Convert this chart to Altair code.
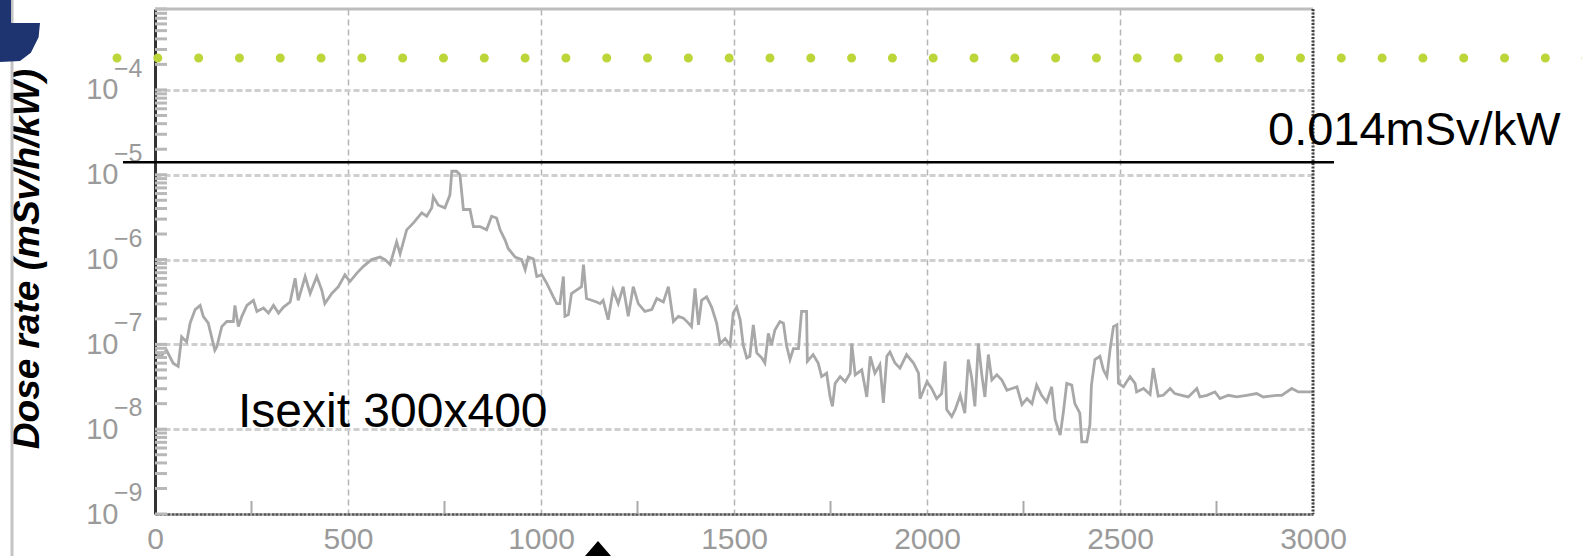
import altair as alt
import pandas as pd

# Distance along the exit (x) and computed dose rate (mSv/h/kW)
distance = [
    0, 13, 30, 47, 60, 69, 82, 91, 104, 117,
    125, 138, 155, 160, 173, 186, 203, 207, 216, 225,
    238, 255, 264, 281, 294, 307, 320, 333, 350, 363,
    371, 389, 402, 419, 432, 440, 458, 475, 492, 505,
    523, 540, 561, 583, 596, 609, 626, 635, 652, 669,
    691, 704, 717, 721, 734, 751, 764, 769, 781, 790,
    799, 816, 825, 842, 859, 872, 885, 894, 907, 915,
    933, 950, 959, 967, 980, 989, 1002, 1015, 1032, 1041,
    1049, 1058, 1062, 1071, 1079, 1092, 1105, 1110, 1118, 1131,
    1144, 1153, 1161, 1174, 1187, 1200, 1213, 1226, 1239, 1252,
    1269, 1287, 1300, 1317, 1330, 1343, 1356, 1369, 1382, 1390,
    1399, 1408, 1416, 1429, 1442, 1455, 1464, 1477, 1490, 1498,
    1507, 1516, 1524, 1533, 1541, 1550, 1559, 1572, 1580, 1589,
    1597, 1606, 1619, 1628, 1636, 1645, 1654, 1667, 1675, 1688,
    1690, 1705, 1718, 1727, 1740, 1749, 1755, 1762, 1775, 1788,
    1801, 1805, 1814, 1831, 1844, 1853, 1865, 1878, 1887, 1896,
    1904, 1917, 1930, 1947, 1965, 1978, 1982, 1991, 2000, 2012,
    2025, 2038, 2047, 2051, 2064, 2073, 2086, 2098, 2107, 2116,
    2124, 2133, 2142, 2150, 2159, 2168, 2181, 2194, 2207, 2220,
    2233, 2246, 2259, 2272, 2284, 2297, 2310, 2323, 2332, 2345,
    2353, 2362, 2375, 2383, 2396, 2401, 2414, 2422, 2426, 2435,
    2448, 2457, 2466, 2474, 2483, 2492, 2496, 2509, 2526, 2539,
    2543, 2561, 2578, 2586, 2599, 2612, 2630, 2642, 2660, 2677,
    2699, 2707, 2725, 2746, 2759, 2781, 2802, 2828, 2854, 2871,
    2906, 2919, 2945, 2962, 3000,
]
dose_rate = [
    8.5e-8, 7.1e-8, 8.5e-8, 6.0e-8, 5.5e-8, 1.23e-7, 1.07e-7, 1.78e-7, 2.57e-7, 2.88e-7,
    2.14e-7, 1.78e-7, 8.5e-8, 9.3e-8, 1.62e-7, 1.86e-7, 1.86e-7, 2.88e-7, 1.62e-7, 2.14e-7,
    2.88e-7, 3.31e-7, 2.45e-7, 2.69e-7, 2.34e-7, 2.88e-7, 2.34e-7, 2.75e-7, 3.16e-7, 6.03e-7,
    3.31e-7, 6.31e-7, 3.98e-7, 6.31e-7, 4.37e-7, 3.02e-7, 3.98e-7, 4.79e-7, 6.61e-7, 5.50e-7,
    6.92e-7, 8.32e-7, 1.0e-6, 1.07e-6, 1.0e-6, 8.71e-7, 1.62e-6, 1.17e-6, 2.24e-6, 2.69e-6,
    3.55e-6, 3.24e-6, 4.07e-6, 5.50e-6, 4.37e-6, 4.07e-6, 5.75e-6, 1.10e-5, 1.10e-5, 1.0e-5,
    3.89e-6, 3.89e-6, 2.45e-6, 2.45e-6, 2.24e-6, 3.24e-6, 3.09e-6, 2.24e-6, 1.70e-6, 1.35e-6,
    1.07e-6, 1.0e-6, 7.59e-7, 1.07e-6, 1.02e-6, 6.31e-7, 6.61e-7, 5.25e-7, 3.63e-7, 3.02e-7,
    3.02e-7, 6.31e-7, 2.14e-7, 2.24e-7, 3.98e-7, 4.37e-7, 4.79e-7, 8.71e-7, 3.47e-7, 3.31e-7,
    3.16e-7, 3.02e-7, 3.31e-7, 1.95e-7, 4.37e-7, 3.02e-7, 4.79e-7, 2.14e-7, 4.79e-7, 3.02e-7,
    2.45e-7, 2.57e-7, 3.47e-7, 3.16e-7, 4.79e-7, 1.86e-7, 2.14e-7, 2.04e-7, 1.78e-7, 1.62e-7,
    4.57e-7, 1.70e-7, 3.31e-7, 3.63e-7, 2.75e-7, 1.78e-7, 1.02e-7, 1.17e-7, 9.77e-8, 2.34e-7,
    2.75e-7, 1.95e-7, 9.77e-8, 6.92e-8, 7.24e-8, 1.70e-7, 7.94e-8, 6.92e-8, 6.03e-8, 1.35e-7,
    9.77e-8, 1.48e-7, 1.86e-7, 1.78e-7, 9.77e-8, 6.61e-8, 8.91e-8, 8.91e-8, 2.45e-7, 2.45e-7,
    6.31e-8, 7.59e-8, 6.03e-8, 4.17e-8, 4.57e-8, 2.40e-8, 1.86e-8, 3.47e-8, 4.17e-8, 3.63e-8,
    4.57e-8, 1.02e-7, 4.37e-8, 5.01e-8, 2.40e-8, 7.24e-8, 4.57e-8, 5.75e-8, 2.04e-8, 7.24e-8,
    8.13e-8, 6.03e-8, 5.25e-8, 7.59e-8, 6.03e-8, 4.57e-8, 2.29e-8, 2.88e-8, 3.63e-8, 3.02e-8,
    2.29e-8, 2.63e-8, 6.31e-8, 1.70e-8, 1.41e-8, 1.70e-8, 2.51e-8, 1.55e-8, 6.61e-8, 3.98e-8,
    1.86e-8, 1.02e-7, 4.37e-8, 2.40e-8, 7.59e-8, 3.80e-8, 4.37e-8, 3.80e-8, 2.88e-8, 3.02e-8,
    3.16e-8, 1.95e-8, 2.29e-8, 2.00e-8, 3.31e-8, 2.51e-8, 2.09e-8, 3.16e-8, 1.29e-8, 8.51e-9,
    1.55e-8, 3.47e-8, 3.31e-8, 2.00e-8, 1.55e-8, 7.08e-9, 7.08e-9, 1.12e-8, 3.31e-8, 6.61e-8,
    7.24e-8, 5.01e-8, 4.17e-8, 8.51e-8, 1.62e-7, 1.70e-7, 3.47e-8, 3.16e-8, 4.17e-8, 3.47e-8,
    2.75e-8, 3.02e-8, 2.57e-8, 5.25e-8, 2.45e-8, 2.51e-8, 3.02e-8, 2.63e-8, 2.51e-8, 2.40e-8,
    3.02e-8, 2.40e-8, 2.51e-8, 2.75e-8, 2.29e-8, 2.51e-8, 2.40e-8, 2.51e-8, 2.63e-8, 2.40e-8,
    2.51e-8, 2.51e-8, 3.02e-8, 2.75e-8, 2.75e-8,
]

# Reference level and annotations
limit_value = [1.4e-5]
limit_text = "0.014mSv/kW"
case_text = "Isexit 300x400"
y_title = "Dose rate (mSv/h/kW)"

# Axis ticks
x_ticks = [0, 500, 1000, 1500, 2000, 2500, 3000]
x_minor = [250, 750, 1250, 1750, 2250, 2750]
decades = [1e-9, 1e-8, 1e-7, 1e-6, 1e-5, 1e-4]
exponents = ["\u22129", "\u22128", "\u22127", "\u22126", "\u22125", "\u22124"]
y_minor = [m * 10.0 ** e for e in range(-9, -3) for m in range(2, 10)] + decades

W, H = 1158, 505
FONT = "Liberation Sans"
LABEL_GREY = "#9a9a9a"

xs = alt.Scale(domain=[0, 3000], nice=False, zero=False)
ys = alt.Scale(type="log", domain=[1e-9, 9e-4], nice=False)

one = pd.DataFrame({"k": [0]})
df = pd.DataFrame({"distance": distance, "dose": dose_rate})

profile = alt.Chart(df).mark_line(color="#a8a8a8", strokeWidth=2.8, clip=True).encode(
    x=alt.X("distance:Q", scale=xs, axis=alt.Axis(
        orient="bottom", values=x_ticks, format="d", title=None, grid=True,
        gridColor="#b5b5b5", gridDash=[6, 4], gridWidth=1.5, ticks=False, tickSize=0,
        labelFontSize=30, labelColor=LABEL_GREY, labelFont=FONT,
        labelPadding=10, labelFlush=False,
        domainColor="#555555", domainWidth=2.5, domainDash=[3, 1])),
    y=alt.Y("dose:Q", scale=ys, axis=alt.Axis(
        orient="left", values=decades, labelExpr="'10'", title=None, grid=True,
        gridColor="#cfcfcf", gridDash=[6, 3], gridWidth=3,
        ticks=False, tickSize=0, labelFontSize=29, labelColor=LABEL_GREY,
        labelFont=FONT, labelPadding=37, labelBaseline="middle",
        domainColor="#333333", domainWidth=3)),
)

exp_labels = alt.Chart(pd.DataFrame({"v": decades, "e": exponents})).mark_text(
    align="left", baseline="middle", dy=-21, fontSize=25, color=LABEL_GREY, font=FONT
).encode(x=alt.value(-41), y=alt.Y("v:Q", scale=ys, axis=None), text="e:N")

y_ticks = alt.Chart(pd.DataFrame({"v": y_minor})).mark_rule(
    color="#b8b8b8", strokeWidth=3
).encode(y=alt.Y("v:Q", scale=ys, axis=None), x=alt.value(0), x2=alt.value(12))

x_ticks_minor = alt.Chart(pd.DataFrame({"d": x_minor})).mark_rule(
    color="#aaaaaa", strokeWidth=2
).encode(x=alt.X("d:Q", scale=xs, axis=None), y=alt.value(H - 13), y2=alt.value(H))

top_border = alt.Chart(one).mark_rule(color="#bdbdbd", strokeWidth=3).encode(
    x=alt.value(0), x2=alt.value(W), y=alt.value(0))
right_border = alt.Chart(one).mark_rule(
    color="#444444", strokeWidth=3, strokeDash=[2, 1.5]
).encode(x=alt.value(W), y=alt.value(0), y2=alt.value(H))

limit_line = alt.Chart(pd.DataFrame({"v": limit_value})).mark_rule(
    color="black", strokeWidth=2.5
).encode(y=alt.Y("v:Q", scale=ys, axis=None), x=alt.value(-32), x2=alt.value(1179))

limit_label = alt.Chart(pd.DataFrame({"v": limit_value})).mark_text(
    align="left", baseline="alphabetic", dy=-17, fontSize=47, font=FONT, color="black"
).encode(y=alt.Y("v:Q", scale=ys, axis=None), x=alt.value(1113), text=alt.value(limit_text))

case_label = alt.Chart(one).mark_text(
    align="left", baseline="alphabetic", fontSize=48, font=FONT, color="black"
).encode(x=alt.value(83), y=alt.value(418), text=alt.value(case_text))

dots = alt.Chart(one).mark_rule(
    color="#bcd639", strokeWidth=9, strokeCap="round", strokeDash=[0.01, 40.8]
).encode(x=alt.value(-38), x2=alt.value(1432), y=alt.value(49))

title = alt.Chart(one).mark_text(
    angle=270, fontSize=37, fontWeight="bold", fontStyle="italic", font=FONT,
    color="black", align="center", baseline="middle"
).encode(x=alt.value(-127), y=alt.value(250), text=alt.value(y_title))

edge = alt.Chart(one).mark_rule(color="#c4c4c4", strokeWidth=3).encode(
    x=alt.value(-143), y=alt.value(-9), y2=alt.value(H + 42))

logo = alt.Chart(one).mark_point(
    shape="M-0.645,-1.3L-0.29,-1.3L-0.29,-0.258L0.645,-0.258L0.6,0.2L0.35,0.7L0,0.97L-0.645,1Z",
    filled=True, color="#1e3470", opacity=1, size=3844
).encode(x=alt.value(-135), y=alt.value(22))

arrow = alt.Chart(one).mark_point(
    shape="M0,-1L-1.73,1L1.73,1Z", filled=True, color="black", opacity=1, size=576
).encode(x=alt.value(443), y=alt.value(544))

chart = alt.layer(
    profile, y_ticks, x_ticks_minor, top_border, right_border, exp_labels,
    limit_line, limit_label, case_label, dots, title, edge, logo, arrow
).resolve_axis(
    x="independent", y="independent"
).properties(
    width=W, height=H,
    padding={"left": 155, "top": 9, "right": 269, "bottom": 42},
    autosize=alt.AutoSizeParams(type="none"),
    background="white",
).configure_view(stroke="transparent")

chart.save("out.html", embed_options={"renderer": "svg", "actions": False})
